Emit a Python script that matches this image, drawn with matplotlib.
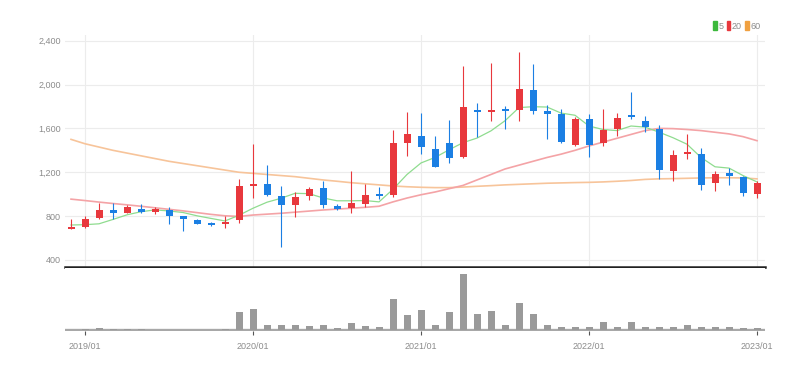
import matplotlib
matplotlib.use('Agg')
from matplotlib import pyplot as plt
from matplotlib.patches import Patch
import numpy as np
import pandas as pd

matplotlib.rcParams['font.family'] = ['Liberation Sans Narrow', 'Liberation Sans', 'DejaVu Sans']

# monthly candles, 2018/12 .. 2023/01
months = list(pd.period_range('2018-12', '2023-01', freq='M').strftime('%Y/%m'))

opens = [686, 704, 779, 855, 830, 869, 842, 854, 800, 761,
         740, 724, 761, 1076, 1091, 988, 897, 985, 1055, 894,
         870, 912, 1004, 989, 1468, 1534, 1412, 1467, 1336, 1770,
         1749, 1773, 1764, 1952, 1755, 1736, 1449, 1685, 1467, 1594,
         1718, 1664, 1597, 1209, 1367, 1370, 1103, 1194, 1158, 1006]
highs = [770, 800, 920, 920, 905, 911, 884, 884, 805, 776,
         749, 800, 1143, 1460, 1270, 1079, 1021, 1065, 1124, 915,
         1214, 1094, 1064, 1587, 1752, 1743, 1533, 1679, 2173, 1836,
         2194, 1806, 2294, 2188, 1815, 1776, 1703, 1730, 1776, 1742,
         1936, 1709, 1633, 1406, 1551, 1421, 1209, 1239, 1164, 1118]
lows = [680, 692, 770, 770, 824, 830, 815, 725, 665, 724,
        712, 694, 733, 967, 988, 521, 794, 945, 870, 855,
        825, 885, 960, 974, 1348, 1363, 1246, 1285, 1330, 1521,
        1664, 1594, 1670, 1733, 1503, 1467, 1442, 1339, 1436, 1527,
        1685, 1564, 1139, 1118, 1321, 1042, 1027, 1088, 988, 967]
closes = [701, 773, 860, 830, 884, 842, 869, 800, 776, 730,
          721, 745, 1073, 1097, 997, 903, 976, 1048, 900, 864,
          918, 989, 986, 1468, 1551, 1432, 1249, 1330, 1794, 1749,
          1767, 1758, 1964, 1755, 1736, 1476, 1682, 1449, 1588, 1697,
          1703, 1612, 1218, 1355, 1385, 1088, 1188, 1164, 1012, 1103]

ma5 = [719, 722, 730, 770, 812, 840, 857, 847, 833, 803,
       779, 756, 808, 872, 927, 963, 1008, 1005, 966, 940,
       940, 942, 930, 1045, 1180, 1285, 1335, 1405, 1470, 1512,
       1578, 1670, 1790, 1798, 1795, 1740, 1720, 1622, 1590, 1580,
       1622, 1612, 1566, 1515, 1456, 1335, 1250, 1238, 1170, 1112]
ma20 = [955, 942, 928, 915, 903, 890, 876, 862, 848, 832,
        816, 803, 797, 810, 818, 826, 836, 846, 856, 864,
        872, 880, 890, 930, 965, 995, 1020, 1050, 1080, 1130,
        1180, 1230, 1265, 1300, 1335, 1365, 1400, 1440, 1475, 1510,
        1545, 1580, 1600, 1598, 1590, 1580, 1565, 1550, 1525, 1488]
ma60 = [1500, 1460, 1430, 1400, 1375, 1350, 1325, 1300, 1280, 1260,
        1240, 1220, 1200, 1190, 1180, 1170, 1160, 1145, 1130, 1118,
        1105, 1095, 1085, 1075, 1068, 1063, 1060, 1060, 1065, 1072,
        1078, 1085, 1090, 1095, 1100, 1103, 1106, 1108, 1112, 1118,
        1125, 1135, 1140, 1142, 1145, 1148, 1150, 1150, 1148, 1140]

volumes = [1, 3, 6, 3, 3, 3, 0.5, 0.5, 0.5, 0.5,
           0.5, 3, 55, 62, 16, 16, 15, 11, 15, 5,
           22, 11, 10, 92, 45, 61, 16, 55, 167, 47,
           56, 15, 82, 47, 15, 10, 10, 9, 25, 10,
           25, 8, 8, 10, 16, 8, 8, 8, 5, 5]

price_ticks = [400, 800, 1200, 1600, 2000, 2400]
year_ticks = ['2019/01', '2020/01', '2021/01', '2022/01', '2023/01']

RED = '#e8383d'
BLUE = '#1b7fe3'
GRAY = '#8c8c8c'

W, H = 811, 371
fig = plt.figure(figsize=(W / 100, H / 100), dpi=100)
ax = fig.add_axes([65 / W, (H - 267) / H, 700 / W, (267 - 35) / H])
axv = fig.add_axes([65 / W, (H - 331) / H, 700 / W, (331 - 268) / H])

x = np.arange(len(months))
o = np.array(opens, dtype=float)
c = np.array(closes, dtype=float)
colors = np.where(c >= o, RED, BLUE)
year_pos = [months.index(m) for m in year_ticks]

# moving averages
ax.plot(x, ma60, color='#f7c49a', lw=1.2, zorder=2)
ax.plot(x, ma20, color='#f4a3a6', lw=1.2, zorder=2)
ax.plot(x, ma5, color='#8fdc8f', lw=0.9, zorder=2)

# candles
ax.vlines(x, lows, highs, colors=colors, lw=0.8, zorder=3)
ax.bar(x, np.maximum(np.abs(c - o), 10), bottom=np.minimum(o, c), width=0.5,
       color=colors, zorder=4)

ax.set_xlim(-0.43, len(months) - 0.43)
ax.set_ylim(336, 2452)
ax.set_yticks(price_ticks)
ax.set_yticklabels(['{:,}'.format(v) for v in price_ticks])
ax.set_xticks(year_pos)
ax.set_xticklabels([])
ax.tick_params(length=0, labelsize=6.5, labelcolor=GRAY, pad=3)
ax.grid(True, color='#ececec', lw=0.8)
ax.set_axisbelow(True)
for s in ['top', 'right', 'left']:
    ax.spines[s].set_visible(False)
ax.spines['bottom'].set_color('#222222')
ax.spines['bottom'].set_linewidth(1.8)

# volume
axv.bar(x, volumes, width=0.5, color='#9a9a9a', zorder=3)
axv.axhline(0, color='#a8a8a8', lw=2.4, zorder=2)
axv.set_xlim(ax.get_xlim())
axv.set_ylim(-3, 185)
axv.set_yticks([])
axv.set_xticks(year_pos)
axv.set_xticklabels(year_ticks)
axv.tick_params(axis='x', length=3, color='#555555', labelsize=6.5, labelcolor=GRAY, pad=5)
for s in ['top', 'right', 'left', 'bottom']:
    axv.spines[s].set_visible(False)

handles = [Patch(color='#3cb83c', label='5'),
           Patch(color=RED, label='20'),
           Patch(color='#f0a040', label='60')]
fig.legend(handles=handles, loc='center right', bbox_to_anchor=(765 / W, 1 - 26 / H),
           ncol=3, frameon=False, fontsize=6.5, handlelength=0.4, handleheight=1.0,
           handletextpad=0.15, columnspacing=0.4, borderpad=0, labelcolor=GRAY)

fig.savefig('out.png', dpi=100, facecolor='white')
